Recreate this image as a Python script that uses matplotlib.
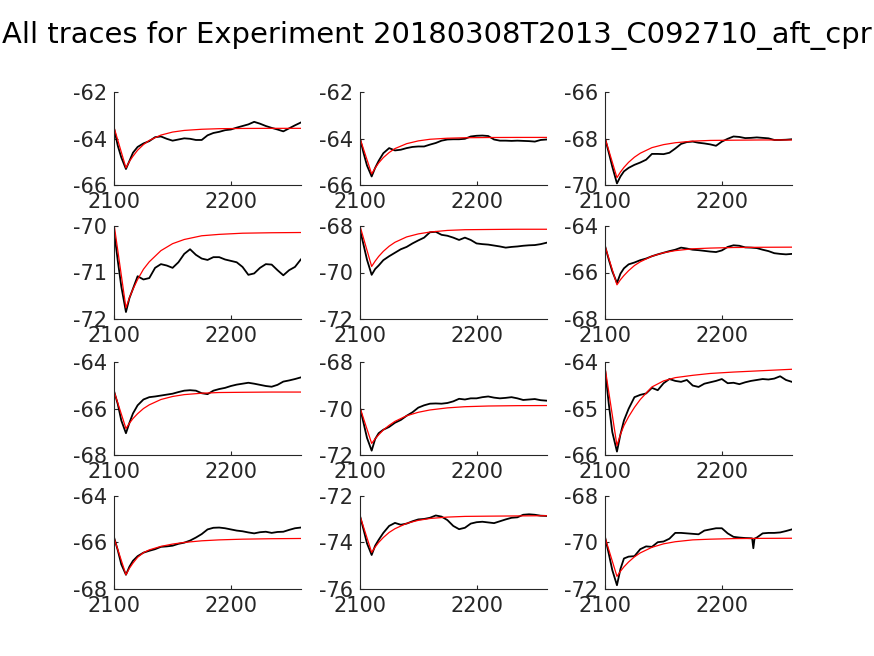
import numpy as np
import matplotlib
matplotlib.use("Agg")
import matplotlib.pyplot as plt

plt.rcParams['font.family'] = 'DejaVu Sans'
plt.rcParams['axes.unicode_minus'] = False

title = "All traces for Experiment 20180308T2013_C092710_aft_cpr"

# time points the black traces were read at
t = [2100, 2103, 2106, 2110, 2113, 2116, 2120, 2125, 2130, 2135, 2140, 2145,
     2150, 2155, 2160, 2165, 2170, 2175, 2180, 2185, 2190, 2195, 2200, 2205,
     2210, 2215, 2220, 2225, 2230, 2235, 2240, 2245, 2250, 2255, 2260]
# last panel has a short spike near 2227
t12 = [2100, 2103, 2106, 2110, 2113, 2116, 2120, 2125, 2130, 2135, 2140, 2145,
       2150, 2155, 2160, 2165, 2170, 2175, 2180, 2185, 2190, 2195, 2200, 2205,
       2210, 2215, 2220, 2225, 2226, 2227, 2228, 2230, 2235, 2240, 2245, 2250,
       2255, 2260]
# time points of the red fit curves
t_fit = [2100, 2110, 2113, 2116, 2120, 2125, 2130, 2140, 2150, 2160, 2175,
         2190, 2210, 2235, 2260]

v1 = [-63.6, -64.3, -64.8, -65.3, -64.95, -64.6, -64.35, -64.2, -64.1, -63.93,
      -63.9, -64.0, -64.08, -64.03, -63.98, -64.0, -64.05, -64.05, -63.85,
      -63.75, -63.7, -63.63, -63.6, -63.52, -63.45, -63.38, -63.27, -63.35,
      -63.45, -63.53, -63.6, -63.68, -63.55, -63.42, -63.3]
v2 = [-63.98, -64.6, -65.15, -65.62, -65.25, -64.95, -64.62, -64.4, -64.5,
      -64.47, -64.4, -64.35, -64.33, -64.33, -64.25, -64.18, -64.08, -64.03,
      -64.02, -64.02, -64.0, -63.9, -63.87, -63.86, -63.88, -64.03, -64.08,
      -64.08, -64.09, -64.08, -64.09, -64.1, -64.12, -64.05, -64.03]
v3 = [-68.02, -68.6, -69.2, -69.92, -69.62, -69.4, -69.25, -69.12, -69.02,
      -68.9, -68.65, -68.65, -68.66, -68.6, -68.42, -68.22, -68.14, -68.12,
      -68.17, -68.2, -68.24, -68.3, -68.12, -68.0, -67.9, -67.92, -67.97,
      -67.96, -67.94, -67.96, -67.98, -68.05, -68.05, -68.04, -68.02]
v4 = [-70.15, -70.75, -71.3, -71.85, -71.55, -71.35, -71.08, -71.15, -71.12,
      -70.9, -70.82, -70.85, -70.9, -70.78, -70.6, -70.5, -70.62, -70.7,
      -70.73, -70.67, -70.67, -70.72, -70.75, -70.78, -70.88, -71.05, -71.02,
      -70.9, -70.82, -70.83, -70.95, -71.06, -70.95, -70.88, -70.72]
v5 = [-68.15, -68.8, -69.45, -70.1, -69.85, -69.7, -69.47, -69.3, -69.15,
      -69.0, -68.9, -68.75, -68.62, -68.5, -68.27, -68.25, -68.38, -68.42,
      -68.5, -68.6, -68.5, -68.6, -68.75, -68.78, -68.8, -68.84, -68.88,
      -68.93, -68.9, -68.88, -68.85, -68.83, -68.82, -68.78, -68.72]
v6 = [-64.9, -65.45, -65.95, -66.45, -66.05, -65.82, -65.65, -65.57, -65.47,
      -65.4, -65.3, -65.22, -65.15, -65.08, -65.02, -64.93, -64.97, -65.02,
      -65.04, -65.07, -65.1, -65.12, -65.05, -64.9, -64.83, -64.85, -64.92,
      -64.93, -64.95, -65.02, -65.08, -65.17, -65.2, -65.22, -65.2]
v7 = [-65.28, -65.8, -66.5, -67.05, -66.6, -66.2, -65.85, -65.6, -65.5,
      -65.47, -65.43, -65.39, -65.35, -65.28, -65.22, -65.2, -65.22, -65.33,
      -65.37, -65.22, -65.15, -65.1, -65.02, -64.96, -64.92, -64.88, -64.92,
      -64.97, -65.02, -65.05, -64.97, -64.83, -64.78, -64.72, -64.65]
v8 = [-69.95, -70.6, -71.25, -71.8, -71.3, -71.05, -70.9, -70.78, -70.6,
      -70.48, -70.3, -70.15, -69.95, -69.85, -69.78, -69.77, -69.78, -69.75,
      -69.68, -69.57, -69.6, -69.55, -69.55, -69.5, -69.47, -69.52, -69.55,
      -69.53, -69.5, -69.55, -69.62, -69.6, -69.58, -69.63, -69.65]
v9 = [-64.2, -64.9, -65.5, -65.92, -65.55, -65.25, -65.0, -64.75, -64.7,
      -64.67, -64.55, -64.6, -64.45, -64.36, -64.4, -64.42, -64.38, -64.5,
      -64.53, -64.46, -64.43, -64.4, -64.36, -64.45, -64.44, -64.47, -64.43,
      -64.4, -64.38, -64.36, -64.37, -64.35, -64.3, -64.38, -64.42]
v10 = [-65.83, -66.35, -66.95, -67.4, -67.05, -66.8, -66.6, -66.45, -66.37,
       -66.3, -66.2, -66.18, -66.15, -66.07, -66.02, -65.93, -65.8, -65.65,
       -65.45, -65.38, -65.37, -65.4, -65.45, -65.5, -65.53, -65.58, -65.62,
       -65.57, -65.55, -65.6, -65.56, -65.55, -65.47, -65.4, -65.37]
v11 = [-72.87, -73.45, -74.05, -74.55, -74.15, -73.9, -73.6, -73.3, -73.17,
       -73.25, -73.2, -73.1, -73.02, -73.0, -72.95, -72.85, -72.9, -73.05,
       -73.3, -73.44, -73.38, -73.2, -73.14, -73.12, -73.15, -73.18, -73.1,
       -73.02, -72.95, -72.93, -72.82, -72.8, -72.82, -72.86, -72.87]
v12 = [-69.83, -70.5, -71.2, -71.85, -71.15, -70.7, -70.62, -70.6, -70.3,
       -70.18, -70.2, -70.0, -69.97, -69.85, -69.6, -69.6, -69.62, -69.64,
       -69.66, -69.5, -69.45, -69.4, -69.4, -69.62, -69.77, -69.8, -69.82,
       -69.83, -69.84, -70.26, -69.85, -69.8, -69.62, -69.6, -69.6, -69.58,
       -69.52, -69.45]

f1 = [-63.55, -65.25, -64.97, -64.75, -64.49, -64.25, -64.07, -63.84, -63.71,
      -63.64, -63.59, -63.565, -63.555, -63.55, -63.55]
f2 = [-63.98, -65.51, -65.26, -65.04, -64.81, -64.59, -64.42, -64.21, -64.09,
      -64.02, -63.975, -63.955, -63.945, -63.94, -63.94]
f3 = [-68.0, -69.67, -69.43, -69.23, -69.01, -68.79, -68.62, -68.38, -68.25,
      -68.17, -68.1, -68.07, -68.06, -68.05, -68.05]
f4 = [-70.0, -71.76, -71.54, -71.36, -71.15, -70.93, -70.77, -70.53, -70.38,
      -70.29, -70.21, -70.18, -70.155, -70.145, -70.14]
f5 = [-68.0, -69.74, -69.51, -69.31, -69.09, -68.87, -68.7, -68.47, -68.34,
      -68.26, -68.19, -68.16, -68.15, -68.14, -68.14]
f6 = [-64.9, -66.53, -66.31, -66.13, -65.92, -65.7, -65.54, -65.3, -65.15,
      -65.06, -64.98, -64.95, -64.925, -64.915, -64.91]
f7 = [-65.28, -66.85, -66.62, -66.42, -66.21, -65.99, -65.83, -65.6, -65.47,
      -65.39, -65.33, -65.3, -65.29, -65.28, -65.28]
f8 = [-69.95, -71.49, -71.29, -71.12, -70.91, -70.71, -70.54, -70.3, -70.15,
      -70.05, -69.96, -69.91, -69.88, -69.865, -69.86]
f9 = [-64.15, -65.79, -65.55, -65.36, -65.17, -64.97, -64.8, -64.53, -64.4,
      -64.33, -64.28, -64.24, -64.21, -64.18, -64.15]
f10 = [-65.85, -67.4, -67.12, -66.9, -66.65, -66.45, -66.33, -66.18, -66.08,
       -66.01, -65.94, -65.9, -65.87, -65.85, -65.84]
f11 = [-72.87, -74.44, -74.21, -74.01, -73.8, -73.58, -73.42, -73.19, -73.06,
       -72.98, -72.92, -72.89, -72.88, -72.87, -72.86]
f12 = [-69.83, -71.47, -71.25, -71.06, -70.85, -70.63, -70.46, -70.22, -70.07,
       -69.98, -69.9, -69.87, -69.845, -69.835, -69.83]

traces = [v1, v2, v3, v4, v5, v6, v7, v8, v9, v10, v11, v12]
fits = [f1, f2, f3, f4, f5, f6, f7, f8, f9, f10, f11, f12]
ylims = [(-66, -62), (-66, -62), (-70, -66),
         (-72, -70), (-72, -68), (-68, -64),
         (-68, -64), (-72, -68), (-66, -64),
         (-68, -64), (-76, -72), (-72, -68)]

W, H = 874, 656
fig = plt.figure(figsize=(W / 100, H / 100), dpi=100)

col_left = [114.3, 360.0, 605.3]
row_top = [92.3, 226.0, 362.3, 495.7]
ax_w, ax_h = 186.5, 93.0
grey = '#262626'

for i in range(12):
    r, c = divmod(i, 3)
    ax = fig.add_axes([col_left[c] / W, 1 - (row_top[r] + ax_h) / H, ax_w / W, ax_h / H])
    tt = t12 if i == 11 else t
    ax.plot(tt, traces[i], color='k', lw=1.3)
    ax.plot(t_fit, fits[i], color='r', lw=0.9)
    lo, hi = ylims[i]
    ax.set_ylim(lo, hi)
    ax.set_yticks([lo, (lo + hi) / 2, hi])
    ax.set_yticklabels(['%g' % v for v in [lo, (lo + hi) / 2, hi]])
    ax.set_xlim(2100, 2260)
    ax.set_xticks([2100, 2200])
    for s in ['top', 'right']:
        ax.spines[s].set_visible(False)
    for s in ['left', 'bottom']:
        ax.spines[s].set_color(grey)
        ax.spines[s].set_linewidth(0.8)
    ax.tick_params(direction='in', length=3, width=0.8, colors=grey,
                   labelsize=15, pad=5)

fig.text(437 / W, 1 - 36 / H, title, ha='center', va='center', fontsize=20.9,
         color='k')

fig.savefig('out.png', dpi=100)
